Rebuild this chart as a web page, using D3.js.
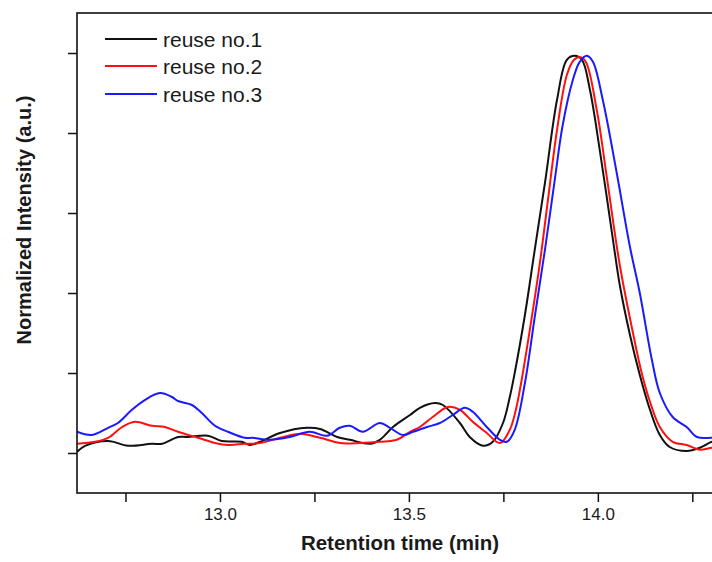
<!DOCTYPE html>
<html>
<head>
<meta charset="utf-8">
<script src="https://cdn.jsdelivr.net/npm/d3@7"></script>
<style>
  html, body { margin: 0; padding: 0; background: #fff; }
  svg { display: block; }
  text { font-family: "Liberation Sans", Arial, Helvetica, sans-serif; fill: #1a1a1a; }
</style>
</head>
<body>
<svg id="chart" width="712" height="562"></svg>
<script>
// ---------------- data ----------------
const seriesNames = ["reuse no.1", "reuse no.2", "reuse no.3"];
const seriesColors = ["#111111", "#ff1010", "#1a1aff"];

const timesNo1 = [12.622, 12.643, 12.704, 12.757, 12.820, 12.847, 12.889, 12.915, 12.968, 13.005,
  13.058, 13.079, 13.106, 13.159, 13.230, 13.265, 13.310, 13.344, 13.397, 13.423,
  13.458, 13.503, 13.529, 13.569, 13.590, 13.635, 13.661, 13.696, 13.722, 13.749,
  13.767, 13.780, 13.807, 13.833, 13.860, 13.892, 13.918, 13.939, 13.958, 13.979,
  14.005, 14.040, 14.058, 14.085, 14.111, 14.138, 14.164, 14.190, 14.235, 14.270, 14.302, 14.340];
const intensityNo1 = [0.003, 0.018, 0.030, 0.018, 0.023, 0.023, 0.040, 0.040, 0.043, 0.030,
  0.028, 0.020, 0.028, 0.050, 0.063, 0.060, 0.040, 0.033, 0.023, 0.033,
  0.065, 0.095, 0.113, 0.125, 0.120, 0.075, 0.040, 0.018, 0.028, 0.075,
  0.140, 0.200, 0.345, 0.508, 0.675, 0.883, 0.983, 0.993, 0.983, 0.908,
  0.758, 0.533, 0.420, 0.295, 0.195, 0.108, 0.045, 0.015, 0.005, 0.013, 0.028, 0.035];

const timesNo2 = [12.622, 12.669, 12.704, 12.741, 12.775, 12.820, 12.854, 12.889, 12.942, 12.987,
  13.021, 13.066, 13.106, 13.159, 13.212, 13.265, 13.317, 13.370, 13.423, 13.468,
  13.503, 13.529, 13.563, 13.603, 13.635, 13.669, 13.706, 13.741, 13.767, 13.783,
  13.796, 13.820, 13.847, 13.868, 13.892, 13.918, 13.937, 13.952, 13.968, 13.997,
  14.024, 14.058, 14.093, 14.116, 14.138, 14.164, 14.198, 14.235, 14.270, 14.302, 14.340];
const intensityNo2 = [0.023, 0.028, 0.038, 0.065, 0.078, 0.068, 0.065, 0.053, 0.038, 0.025,
  0.020, 0.023, 0.025, 0.038, 0.048, 0.038, 0.025, 0.025, 0.028, 0.033,
  0.053, 0.065, 0.090, 0.115, 0.108, 0.078, 0.050, 0.025, 0.058, 0.108,
  0.170, 0.308, 0.478, 0.633, 0.808, 0.945, 0.983, 0.990, 0.978, 0.858,
  0.688, 0.470, 0.300, 0.200, 0.128, 0.065, 0.028, 0.020, 0.008, 0.013, 0.015];

const timesNo3 = [12.622, 12.661, 12.704, 12.730, 12.767, 12.802, 12.841, 12.873, 12.889, 12.926,
  12.952, 12.987, 13.021, 13.066, 13.087, 13.132, 13.185, 13.238, 13.283, 13.317,
  13.344, 13.378, 13.423, 13.450, 13.484, 13.511, 13.548, 13.582, 13.616, 13.648,
  13.669, 13.706, 13.741, 13.759, 13.780, 13.807, 13.833, 13.860, 13.886, 13.907,
  13.934, 13.952, 13.971, 13.987, 14.013, 14.050, 14.085, 14.111, 14.143, 14.164,
  14.198, 14.235, 14.262, 14.302, 14.340];
const intensityNo3 = [0.053, 0.045, 0.063, 0.075, 0.108, 0.133, 0.150, 0.140, 0.130, 0.120,
  0.100, 0.068, 0.053, 0.038, 0.038, 0.033, 0.040, 0.053, 0.043, 0.063,
  0.068, 0.053, 0.075, 0.063, 0.045, 0.053, 0.065, 0.075, 0.095, 0.113,
  0.103, 0.065, 0.033, 0.028, 0.058, 0.175, 0.340, 0.508, 0.683, 0.820,
  0.933, 0.978, 0.993, 0.978, 0.883, 0.700, 0.515, 0.400, 0.233, 0.150,
  0.090, 0.065, 0.040, 0.038, 0.038];

const xTickValues = [12.75, 13.0, 13.25, 13.5, 13.75, 14.0, 14.25];
const xTickLabels = ["", "13.0", "", "13.5", "", "14.0", ""];
const yTickValues = [0, 0.2, 0.4, 0.6, 0.8, 1.0];
const xTitle = "Retention time (min)";
const yTitle = "Normalized Intensity (a.u.)";

// ---------------- layout ----------------
const svg = d3.select("#chart");
const plotLeft = 77, plotTop = 13, plotBottom = 493, plotRight = 749;

const x = d3.scaleLinear().domain([12.6217, 14.4]).range([plotLeft, plotRight]);
const y = d3.scaleLinear().domain([-0.1, 1.1]).range([plotBottom, plotTop]);

svg.append("defs").append("clipPath").attr("id", "plotClip")
  .append("rect").attr("x", plotLeft).attr("y", plotTop)
  .attr("width", plotRight - plotLeft).attr("height", plotBottom - plotTop);

const series = [
  { t: timesNo1, v: intensityNo1 },
  { t: timesNo2, v: intensityNo2 },
  { t: timesNo3, v: intensityNo3 }
];

const line = d3.line()
  .x(d => x(d[0]))
  .y(d => y(d[1]))
  .curve(d3.curveCatmullRom.alpha(0.5));

const plot = svg.append("g").attr("clip-path", "url(#plotClip)");
series.forEach((s, i) => {
  const pts = s.t.map((t, k) => [t, s.v[k]]);
  plot.append("path")
    .datum(pts)
    .attr("d", line)
    .attr("fill", "none")
    .attr("stroke", seriesColors[i])
    .attr("stroke-width", 2)
    .attr("stroke-linejoin", "round");
});

// x axis
const xAxis = d3.axisBottom(x)
  .tickValues(xTickValues)
  .tickSize(9)
  .tickPadding(6)
  .tickFormat((d, i) => xTickLabels[i]);
const gx = svg.append("g").attr("transform", `translate(0,${plotBottom})`).call(xAxis);
gx.select(".domain").remove();
gx.selectAll(".tick line").attr("stroke", "#111").attr("stroke-width", 1.5);
gx.selectAll(".tick text").attr("font-size", 17).attr("fill", "#1a1a1a")
  .style("font-family", "'Liberation Sans', Arial, sans-serif");

// y axis (ticks only, no labels)
const yAxis = d3.axisLeft(y)
  .tickValues(yTickValues)
  .tickSize(9)
  .tickFormat("");
const gy = svg.append("g").attr("transform", `translate(${plotLeft},0)`).call(yAxis);
gy.select(".domain").remove();
gy.selectAll(".tick line").attr("stroke", "#111").attr("stroke-width", 1.5);

// frame
svg.append("rect")
  .attr("x", plotLeft).attr("y", plotTop)
  .attr("width", plotRight - plotLeft).attr("height", plotBottom - plotTop)
  .attr("fill", "none").attr("stroke", "#111").attr("stroke-width", 1.6);

// titles
svg.append("text")
  .attr("x", 400).attr("y", 550)
  .attr("text-anchor", "middle")
  .attr("font-size", 20.5).attr("font-weight", "bold")
  .text(xTitle);

svg.append("text")
  .attr("transform", "translate(31,220) rotate(-90)")
  .attr("text-anchor", "middle")
  .attr("font-size", 20).attr("font-weight", "bold")
  .text(yTitle);

// legend
const legendY = [39, 66, 94];
const legend = svg.append("g");
seriesNames.forEach((name, i) => {
  legend.append("line")
    .attr("x1", 105).attr("x2", 157)
    .attr("y1", legendY[i]).attr("y2", legendY[i])
    .attr("stroke", seriesColors[i]).attr("stroke-width", 2);
  legend.append("text")
    .attr("x", 163).attr("y", legendY[i] + 8)
    .attr("font-size", 21)
    .text(name);
});
</script>
</body>
</html>
